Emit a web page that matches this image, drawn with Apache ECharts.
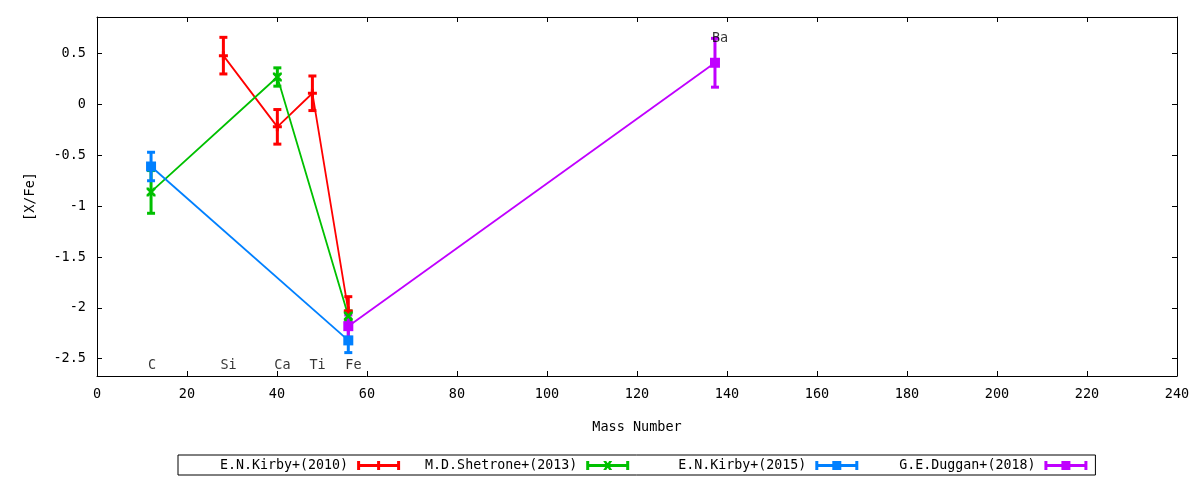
<!DOCTYPE html>
<html>
<head>
<meta charset="utf-8">
<script src="https://cdn.jsdelivr.net/npm/echarts@6/dist/echarts.min.js"></script>
<style>html,body{margin:0;padding:0;background:#fff}#c{width:1200px;height:480px}</style>
</head>
<body>
<div id="c"></div>
<script>
// ---- data ----
const seriesNames = ['E.N.Kirby+(2010)', 'M.D.Shetrone+(2013)', 'E.N.Kirby+(2015)', 'G.E.Duggan+(2018)'];
const kirby2010X = [28.086, 40.078, 47.867, 55.845];
const kirby2010Y = [0.48, -0.22, 0.11, -2.03];
const kirby2010E = [0.18, 0.17, 0.17, 0.14];
const shetrone2013X = [12.011, 40.078, 55.845];
const shetrone2013Y = [-0.86, 0.27, -2.08];
const shetrone2013E = [0.21, 0.09, 0.05];
const kirby2015X = [12.011, 55.845];
const kirby2015Y = [-0.61, -2.32];
const kirby2015E = [0.14, 0.12];
const duggan2018X = [55.845, 137.327];
const duggan2018Y = [-2.18, 0.41];
const duggan2018E = [0.11, 0.24];
const elementNames = ['C', 'Si', 'Ca', 'Ti', 'Fe', 'Ba'];
const elementX = [12.011, 28.086, 40.078, 47.867, 55.845, 137.327];
const elementY = [-2.57, -2.57, -2.57, -2.57, -2.57, 0.65];
const yTicks = [-2.5, -2, -1.5, -1, -0.5, 0, 0.5];

const colors = ['#ff0000', '#00c000', '#0080ff', '#c000ff'];
const FONT = 'DejaVu Sans Mono';

const sets = [
  [kirby2010X, kirby2010Y, kirby2010E],
  [shetrone2013X, shetrone2013Y, shetrone2013E],
  [kirby2015X, kirby2015Y, kirby2015E],
  [duggan2018X, duggan2018Y, duggan2018E]
];
const symbols = [
  'path://M0,3h9v3h-9z M3,0h3v9h-3z',
  'path://M0,0L2,0L9,7L9,9L7,9L0,2Z M7,0L9,0L9,2L2,9L0,9L0,7Z',
  'rect',
  'rect'
];
const symbolSizes = [9, 9, 10, 10];
const legendIcons = [
  'path://M0,0h3v9h-3z M40,0h3v9h-3z M0,3h43v3h-43z M20,0h3v9h-3z',
  'path://M0,0h3v9h-3z M40,0h3v9h-3z M0,3h43v3h-43z M17,0L20,0L26,9L23,9Z M23,0L26,0L20,9L17,9Z',
  'path://M0,0h3v9h-3z M40,0h3v9h-3z M0,3h43v3h-43z M17,0h9v9h-9z',
  'path://M0,0h3v9h-3z M40,0h3v9h-3z M0,3h43v3h-43z M17,0h9v9h-9z'
];

const series = [];
sets.forEach((s, i) => {
  const pts = s[0].map((x, k) => [x, s[1][k], s[2][k]]);
  series.push({
    type: 'custom',
    name: seriesNames[i],
    xAxisIndex: 0, yAxisIndex: 0,
    data: pts,
    encode: { x: 0, y: 1 },
    silent: true,
    renderItem: function (params, api) {
      const x = api.value(0), y = api.value(1), e = api.value(2);
      const top = api.coord([x, y + e]);
      const bot = api.coord([x, y - e]);
      const st = { stroke: colors[i], lineWidth: 3 };
      return {
        type: 'group',
        children: [
          { type: 'line', shape: { x1: top[0], y1: top[1], x2: bot[0], y2: bot[1] }, style: st },
          { type: 'line', shape: { x1: top[0] - 4, y1: top[1], x2: top[0] + 4, y2: top[1] }, style: st },
          { type: 'line', shape: { x1: bot[0] - 4, y1: bot[1], x2: bot[0] + 4, y2: bot[1] }, style: st }
        ]
      };
    }
  });
  series.push({
    type: 'line',
    name: seriesNames[i],
    xAxisIndex: 0, yAxisIndex: 0,
    data: pts.map(p => [p[0], p[1]]),
    symbol: symbols[i],
    symbolSize: symbolSizes[i],
    showAllSymbol: true,
    animation: false,
    lineStyle: { color: colors[i], width: 1.8 },
    itemStyle: { color: colors[i] },
    emphasis: { disabled: true }
  });
});
series.push({
  type: 'scatter',
  name: 'elements',
  xAxisIndex: 0, yAxisIndex: 0,
  data: elementX.map((x, k) => ({ value: [x, elementY[k]], name: elementNames[k] })),
  symbolSize: 1,
  itemStyle: { color: 'rgba(0,0,0,0)' },
  silent: true,
  label: {
    show: true, position: 'inside', align: 'left', verticalAlign: 'middle', offset: [-3, 0],
    formatter: p => p.name, color: '#000', fontFamily: FONT, fontSize: 13.5
  }
});

function axisLine() { return { show: true, onZero: false, lineStyle: { color: '#000', width: 1 } }; }
function axisTick(extra) { return Object.assign({ show: true, inside: true, length: 5, lineStyle: { color: '#000' } }, extra || {}); }

const option = {
  animation: false,
  backgroundColor: '#fff',
  textStyle: { fontFamily: FONT },
  color: colors,
  grid: { left: 97, right: 23, top: 17, bottom: 104, show: false },
  legend: {
    data: seriesNames.map((n, i) => ({ name: n, icon: legendIcons[i], itemStyle: { color: colors[i] } })),
    left: 178, top: 455,
    align: 'right',
    orient: 'horizontal',
    itemWidth: 43, itemHeight: 9,
    itemGap: 25,
    padding: [4, 8, 3, 18],
    borderColor: '#000', borderWidth: 1, borderRadius: 0,
    formatter: n => n.padStart(19, ' '),
    textStyle: { fontFamily: FONT, fontSize: 13.3, color: '#000', padding: [0, 4, 0, 0] },
    selectedMode: false
  },
  xAxis: [
    {
      type: 'value', position: 'bottom', min: 0, max: 240, interval: 20,
      axisLine: axisLine(), axisTick: axisTick(), splitLine: { show: false },
      name: 'Mass Number', nameLocation: 'middle', nameGap: 44,
      nameTextStyle: { color: '#000', fontFamily: FONT, fontSize: 13.5 },
      axisLabel: { color: '#000', fontFamily: FONT, fontSize: 13.5, margin: 11 }
    },
    {
      type: 'value', position: 'top', min: 0, max: 240, interval: 20,
      axisLine: axisLine(), axisTick: axisTick(), splitLine: { show: false },
      axisLabel: { show: false }
    }
  ],
  yAxis: [
    {
      type: 'value', position: 'left', min: -2.67, max: 0.86,
      axisLine: axisLine(), axisTick: axisTick({ customValues: yTicks }), splitLine: { show: false },
      axisLabel: { color: '#000', fontFamily: FONT, fontSize: 13.5, margin: 11, customValues: yTicks },
      name: '[X/Fe]', nameLocation: 'middle', nameGap: 60, nameRotate: 90,
      nameTextStyle: { color: '#000', fontFamily: FONT, fontSize: 13.5 }
    },
    {
      type: 'value', position: 'right', min: -2.67, max: 0.86,
      axisLine: axisLine(), axisTick: axisTick({ customValues: yTicks }), splitLine: { show: false },
      axisLabel: { show: false, customValues: yTicks }
    }
  ],
  series: series
};

const chart = echarts.init(document.getElementById('c'), null, { renderer: 'canvas' });
chart.setOption(option);
</script>
</body>
</html>
